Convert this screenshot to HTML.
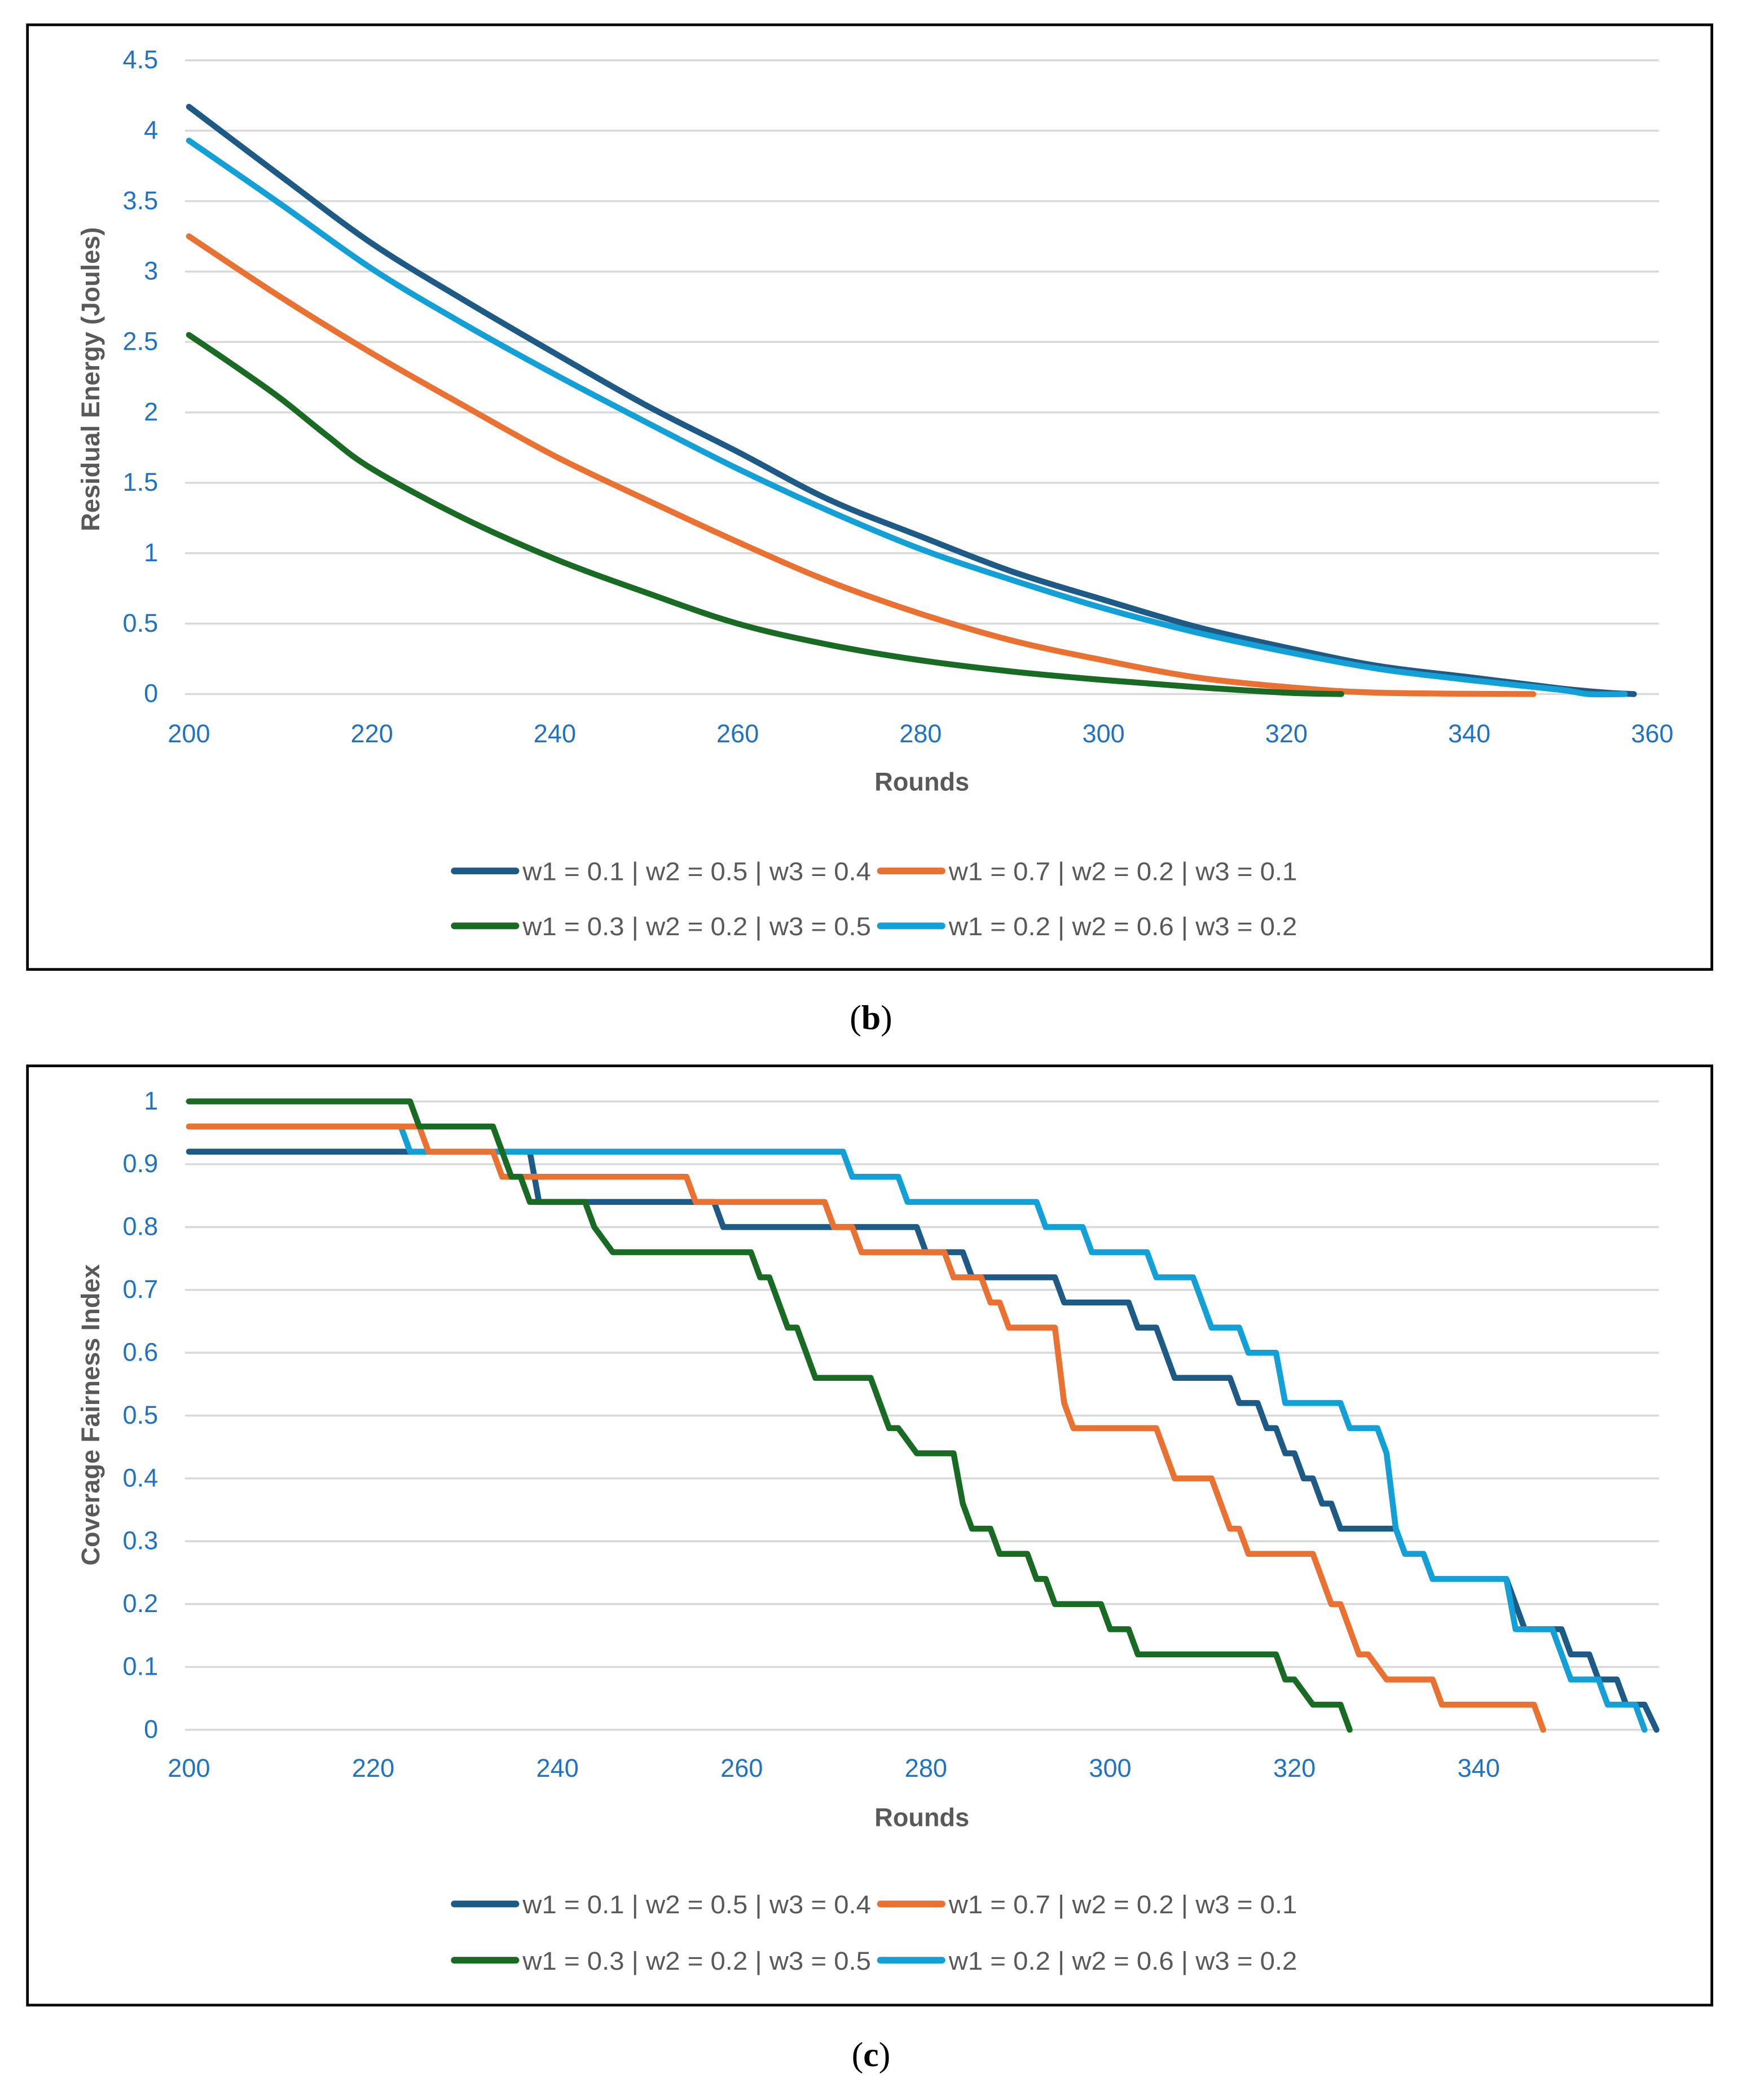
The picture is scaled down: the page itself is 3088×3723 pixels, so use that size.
<!DOCTYPE html>
<html><head><meta charset="utf-8">
<style>
html,body{margin:0;padding:0;background:#fff;}
svg{display:block;}
</style></head>
<body>
<svg id="fig" width="3088" height="3723" viewBox="0 0 1300 1567.3" xmlns="http://www.w3.org/2000/svg" font-family="Liberation Sans, sans-serif">
<rect x="0" y="0" width="1300" height="1567.3" fill="#fff"/>
<rect x="20.5" y="18.5" width="1257" height="705" fill="none" stroke="#000" stroke-width="2"/>
<rect x="20.5" y="795.5" width="1257" height="701" fill="none" stroke="#000" stroke-width="2"/>
<text x="650" y="768" text-anchor="middle" style="font-family:'Liberation Serif',serif" font-size="26">(<tspan font-weight="bold">b</tspan>)</text>
<text x="650" y="1542" text-anchor="middle" style="font-family:'Liberation Serif',serif" font-size="26">(<tspan font-weight="bold">c</tspan>)</text>
<g id="chartB"></g>
<g id="chartC"></g>
</svg>
<script>
// ---------- Chart (b) data ----------
const bYTicks = [0,0.5,1,1.5,2,2.5,3,3.5,4,4.5];
const bXTicks = [200,220,240,260,280,300,320,340,360];
const bS1x = [200,210,220,230,240,250,260,270,280,290,300,310,320,330,340,350,355,358];
const bS1y = [4.17,3.68,3.2,2.8,2.42,2.05,1.72,1.38,1.12,0.87,0.67,0.48,0.33,0.2,0.12,0.04,0.01,0];
const bS2x = [200,210,220,230,240,250,260,270,280,290,300,310,320,330,347];
const bS2y = [3.25,2.82,2.42,2.05,1.69,1.38,1.08,0.8,0.57,0.38,0.24,0.12,0.05,0.01,0];
const bS3x = [200,205,210,215,220,230,240,250,260,270,280,290,300,310,320,326];
const bS3y = [2.55,2.33,2.1,1.84,1.6,1.25,0.96,0.72,0.5,0.35,0.24,0.16,0.1,0.05,0.01,0];
const bS4x = [200,210,220,230,240,250,260,270,280,290,300,310,320,330,340,350,353,357];
const bS4y = [3.93,3.48,3.02,2.63,2.27,1.93,1.6,1.3,1.03,0.81,0.61,0.44,0.3,0.18,0.1,0.03,0,0];

// ---------- Chart (c) data ----------
const cYTicks = [0,0.1,0.2,0.3,0.4,0.5,0.6,0.7,0.8,0.9,1];
const cXTicks = [200,220,240,260,280,300,320,340];
const cS1x = [200,224,225,237,238,257,258,279,280,284,285,294,295,302,303,305,307,313,314,316,317,318,319,320,321,322,323,324,325,331,332,334,335,343,344,345,349,350,352,353,355,356,358,359.3];
const cS1y = [0.92,0.92,0.92,0.92,0.84,0.84,0.80,0.80,0.76,0.76,0.72,0.72,0.68,0.68,0.64,0.64,0.56,0.56,0.52,0.52,0.48,0.48,0.44,0.44,0.40,0.40,0.36,0.36,0.32,0.32,0.28,0.28,0.24,0.24,0.20,0.16,0.16,0.12,0.12,0.08,0.08,0.04,0.04,0];
const cS2x = [200,225,226,233,234,235,254,255,269,270,272,273,282,283,286,287,288,289,294,295,296,305,306,307,311,312,313,314,315,322,323,324,325,326,327,328,329,330,331,335,336,337,346,347];
const cS2y = [0.96,0.96,0.92,0.92,0.88,0.88,0.88,0.84,0.84,0.80,0.80,0.76,0.76,0.72,0.72,0.68,0.68,0.64,0.64,0.52,0.48,0.48,0.44,0.40,0.40,0.36,0.32,0.32,0.28,0.28,0.24,0.20,0.20,0.16,0.12,0.12,0.10,0.08,0.08,0.08,0.04,0.04,0.04,0];
const cS3x = [200,224,225,233,234,235,236,237,243,244,246,261,262,263,264,265,266,267,268,274,275,276,277,278,279,283,284,285,287,288,291,292,293,294,299,300,302,303,318,319,320,321,322,325,326];
const cS3y = [1,1,0.96,0.96,0.92,0.88,0.88,0.84,0.84,0.80,0.76,0.76,0.72,0.72,0.68,0.64,0.64,0.60,0.56,0.56,0.52,0.48,0.48,0.46,0.44,0.44,0.36,0.32,0.32,0.28,0.28,0.24,0.24,0.20,0.20,0.16,0.16,0.12,0.12,0.08,0.08,0.06,0.04,0.04,0];
const cS4x = [200,223,224,271,272,277,278,292,293,297,298,304,305,309,310,311,314,315,318,319,325,326,329,330,331,332,334,335,343,344,348,349,350,353,354,357,358];
const cS4y = [0.96,0.96,0.92,0.92,0.88,0.88,0.84,0.84,0.80,0.80,0.76,0.76,0.72,0.72,0.68,0.64,0.64,0.60,0.60,0.52,0.52,0.48,0.48,0.44,0.32,0.28,0.28,0.24,0.24,0.16,0.16,0.12,0.08,0.08,0.04,0.04,0];

const legendLabels = ["w1 = 0.1 | w2 = 0.5 | w3 = 0.4","w1 = 0.7 | w2 = 0.2 | w3 = 0.1","w1 = 0.3 | w2 = 0.2 | w3 = 0.5","w1 = 0.2 | w2 = 0.6 | w3 = 0.2"];
const colors = ["#1d5a85","#e97132","#196b24","#12a0d7"];
const NS = "http://www.w3.org/2000/svg";

function mk(parent, tag, attrs, txt){
  const e = document.createElementNS(NS, tag);
  for (const k in attrs) e.setAttribute(k, attrs[k]);
  if (txt !== undefined) e.textContent = txt;
  parent.appendChild(e);
  return e;
}

function smoothPath(pts){
  let d = "M" + pts[0][0].toFixed(2) + "," + pts[0][1].toFixed(2);
  for (let i = 0; i < pts.length - 1; i++){
    const p0 = pts[Math.max(0,i-1)], p1 = pts[i], p2 = pts[i+1], p3 = pts[Math.min(pts.length-1,i+2)];
    const c1x = p1[0] + (p2[0]-p0[0])/6, c1y = p1[1] + (p2[1]-p0[1])/6;
    const c2x = p2[0] - (p3[0]-p1[0])/6, c2y = p2[1] - (p3[1]-p1[1])/6;
    d += ` C${c1x.toFixed(2)},${c1y.toFixed(2)} ${c2x.toFixed(2)},${c2y.toFixed(2)} ${p2[0].toFixed(2)},${p2[1].toFixed(2)}`;
  }
  return d;
}

function drawChart(g, cfg){
  const xs = v => cfg.x0 + (v - cfg.xmin) / (cfg.xmax - cfg.xmin) * (cfg.x1 - cfg.x0);
  const ys = v => cfg.y0 - (v - cfg.ymin) / (cfg.ymax - cfg.ymin) * (cfg.y0 - cfg.y1);
  cfg.yTicks.forEach(t => {
    const l = mk(g, "line", {x1:138, x2:1238, y1:ys(t), y2:ys(t), stroke:"#d9d9d9", "stroke-width":1.5});
    
    
    const tx = mk(g, "text", {x:118, y:ys(t)+6, "text-anchor":"end", "font-size":19, fill:"#1f72c4"}, String(t));
    
    
  });
  cfg.xTicks.forEach(t => {
    const tx = mk(g, "text", {x:xs(t), y:cfg.xLabelY, "text-anchor":"middle", "font-size":19, fill:"#1f72c4"}, String(t));
    
    
  });
  const xt = mk(g, "text", {x:688, y:cfg.xTitleY, "text-anchor":"middle", "font-size":19, "font-weight":"bold", fill:"#595959"}, "Rounds");
  
  
  const yt = mk(g, "text", {x:0, y:0, transform:`translate(74,${cfg.yTitleC}) rotate(-90)`, "text-anchor":"middle", "font-size":19, "font-weight":"bold", fill:"#595959"}, cfg.yTitle);
  
  
  const order = [0,3,1,2];
  order.forEach(i => {
    const sx = cfg.series[i][0], sy = cfg.series[i][1];
    const pts = sx.map((v,k) => [xs(v), ys(sy[k])]);
    const d = cfg.smooth ? smoothPath(pts) : pts.map((p,k) => (k ? "L" : "M") + p[0].toFixed(2) + "," + p[1].toFixed(2)).join(" ");
    const p = mk(g, "path", {d:d, fill:"none", stroke:colors[i], "stroke-width":4.4, "stroke-linejoin":"round", "stroke-linecap":"round"});
    
    
  });
  const pos = [[337,cfg.legY1],[655,cfg.legY1],[337,cfg.legY2],[655,cfg.legY2]];
  legendLabels.forEach((lab,i) => {
    const lg = mk(g, "g", {});
    
    
    mk(lg, "line", {x1:pos[i][0]+2, x2:pos[i][0]+48, y1:pos[i][1], y2:pos[i][1], stroke:colors[i], "stroke-width":5, "stroke-linecap":"round"});
    mk(lg, "text", {x:pos[i][0]+53, y:pos[i][1]+7, "font-size":19, fill:"#595959", textLength:260, lengthAdjust:"spacingAndGlyphs"}, lab);
  });
}

drawChart(document.getElementById("chartB"), {
  x0:141, x1:1233, xmin:200, xmax:360, y0:518, y1:45, ymin:0, ymax:4.5, smooth:true,
  yTicks:bYTicks, xTicks:bXTicks, xLabelY:554, xTitleY:590, yTitle:"Residual Energy (Joules)", yTitleC:283,
  legY1:650, legY2:691,
  series:[[bS1x,bS1y],[bS2x,bS2y],[bS3x,bS3y],[bS4x,bS4y]]
});
drawChart(document.getElementById("chartC"), {
  x0:141, x1:1241, xmin:200, xmax:360, y0:1291, y1:822, ymin:0, ymax:1, smooth:false,
  yTicks:cYTicks, xTicks:cXTicks, xLabelY:1326, xTitleY:1363, yTitle:"Coverage Fairness Index", yTitleC:1056,
  legY1:1421, legY2:1463,
  series:[[cS1x,cS1y],[cS2x,cS2y],[cS3x,cS3y],[cS4x,cS4y]]
});
</script>
</body></html>
